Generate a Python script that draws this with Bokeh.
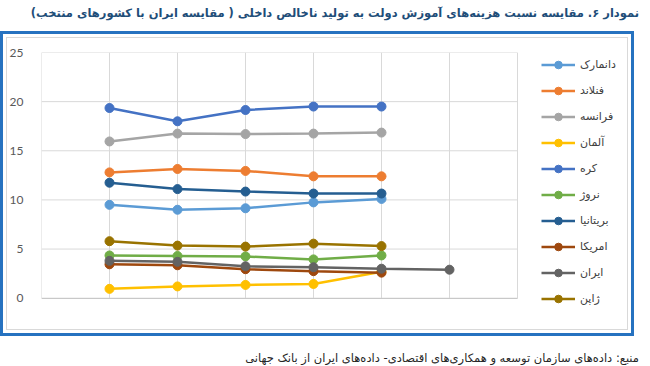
from bokeh.plotting import figure
from bokeh.models import Div, Legend, LegendItem, FixedTicker, Range1d
from bokeh.layouts import column
from bokeh.embed import file_html
from bokeh.resources import INLINE

# ---- data ----
years = [2010, 2011, 2012, 2013, 2014]
iran_years = [2010, 2011, 2012, 2013, 2014, 2015]
x_ticks = [2009, 2010, 2011, 2012, 2013, 2014, 2015, 2016]
y_ticks = [0, 5, 10, 15, 20, 25]

denmark = [9.5, 9.0, 9.15, 9.75, 10.1]
finland = [12.8, 13.15, 12.95, 12.4, 12.4]
france = [15.95, 16.75, 16.7, 16.75, 16.85]
germany = [0.95, 1.2, 1.35, 1.45, 2.7]
korea = [19.35, 18.0, 19.15, 19.5, 19.5]
norway = [4.35, 4.3, 4.25, 3.95, 4.35]
uk = [11.75, 11.1, 10.85, 10.65, 10.65]
usa = [3.45, 3.35, 2.95, 2.75, 2.6]
iran = [3.8, 3.7, 3.25, 3.15, 3.0, 2.9]
japan = [5.8, 5.35, 5.25, 5.55, 5.3]

names = ["دانمارک", "فنلاند", "فرانسه", "آلمان", "کره", "نروژ", "بریتانیا", "امریکا", "ایران", "ژاپن"]
values = [denmark, finland, france, germany, korea, norway, uk, usa, iran, japan]
xs = [years, years, years, years, years, years, years, years, iran_years, years]
colors = ["#5B9BD5", "#ED7D31", "#A5A5A5", "#FFC000", "#4472C4",
          "#70AD47", "#255E91", "#9E480E", "#636363", "#997300"]

title_text = "نمودار ۶. مقایسه نسبت هزینه‌های آموزش دولت به تولید ناخالص داخلی ( مقایسه ایران با کشورهای منتخب)"
source_text = "منبع: داده‌های سازمان توسعه و همکاری‌های اقتصادی- داده‌های ایران از بانک جهانی"

# ---- layout geometry (pixels) ----
W, H = 634, 305
B_LEFT, B_RIGHT, B_TOP, B_BOTTOM = 41, 8, 21, 26
AXIS_W = 476          # pixels from 2009 to 2016
AXIS_H = 245.7        # pixels from 0 to 25
frame_w = W - B_LEFT - B_RIGHT
frame_h = H - B_TOP - B_BOTTOM
x0, x1 = x_ticks[0], x_ticks[-1]
y0, y1 = y_ticks[0], y_ticks[-1]
x_end = x0 + frame_w * (x1 - x0) / AXIS_W
y_start = y1 - frame_h * (y1 - y0) / AXIS_H

p = figure(width=W, height=H, x_range=Range1d(x0, x_end), y_range=Range1d(y_start, y1),
           output_backend="svg", toolbar_location=None,
           min_border_left=B_LEFT, min_border_right=B_RIGHT,
           min_border_top=B_TOP, min_border_bottom=B_BOTTOM,
           background_fill_alpha=0, border_fill_alpha=0,
           styles={"background-color": "#ffffff",
                   "box-shadow": "inset 0 0 0 3px #2672C0, inset 0 0 0 6px #ffffff, inset 0 0 0 7px #D9D9D9"})

p.outline_line_color = None
p.xgrid.visible = False
p.ygrid.visible = False

# grid lines limited to the 2009-2016 / 0-25 box
p.segment(x0=x_ticks, y0=[y0] * len(x_ticks), x1=x_ticks, y1=[y1] * len(x_ticks),
          line_color="#D9D9D9", line_width=1)
p.segment(x0=[x0] * len(y_ticks), y0=y_ticks, x1=[x1] * len(y_ticks), y1=y_ticks,
          line_color="#D9D9D9", line_width=1)

p.xaxis.ticker = FixedTicker(ticks=x_ticks)
p.yaxis.ticker = FixedTicker(ticks=y_ticks)
for ax in (p.xaxis[0], p.yaxis[0]):
    ax.major_tick_line_color = None
    ax.minor_tick_line_color = None
    ax.major_label_text_font = "Lato"
    ax.major_label_text_font_size = "12px"
    ax.major_label_text_color = "#595959"
p.xaxis.fixed_location = y0
p.xaxis.bounds = (x0, x1)
p.xaxis.axis_line_color = "#C8C8C8"
p.yaxis.axis_line_color = None
p.xaxis.major_label_standoff = 9
p.yaxis.major_label_standoff = 12

items = []
for name, xv, yv, c in zip(names, xs, values, colors):
    l = p.line(xv, yv, line_color=c, line_width=2.5)
    s = p.scatter(xv, yv, size=9, fill_color=c, line_color=c)
    items.append(LegendItem(label=name, renderers=[l, s]))

legend = Legend(items=items, location=(500, 2), padding=0, margin=0,
                border_line_color=None, background_fill_alpha=0,
                glyph_width=34, glyph_height=19, label_height=19, spacing=7,
                label_standoff=5, label_text_font="DejaVu Sans",
                label_text_font_size="11px", label_text_color="#404040")
p.add_layout(legend, "center")

title_div = Div(text=title_text, width=634, height=21,
                styles={"text-align": "right", "direction": "rtl", "font-family": "DejaVu Sans",
                        "font-weight": "bold", "font-size": "11.5px", "color": "#1F4E79",
                        "white-space": "nowrap"})
source_div = Div(text=source_text, width=634, height=24,
                 styles={"text-align": "right", "direction": "rtl", "font-family": "DejaVu Sans",
                         "font-size": "11.5px", "color": "#262626", "padding-top": "9px",
                         "white-space": "nowrap"})

layout = column(title_div, p, source_div, spacing=0)

open("out.html", "w").write(file_html(layout, INLINE))
